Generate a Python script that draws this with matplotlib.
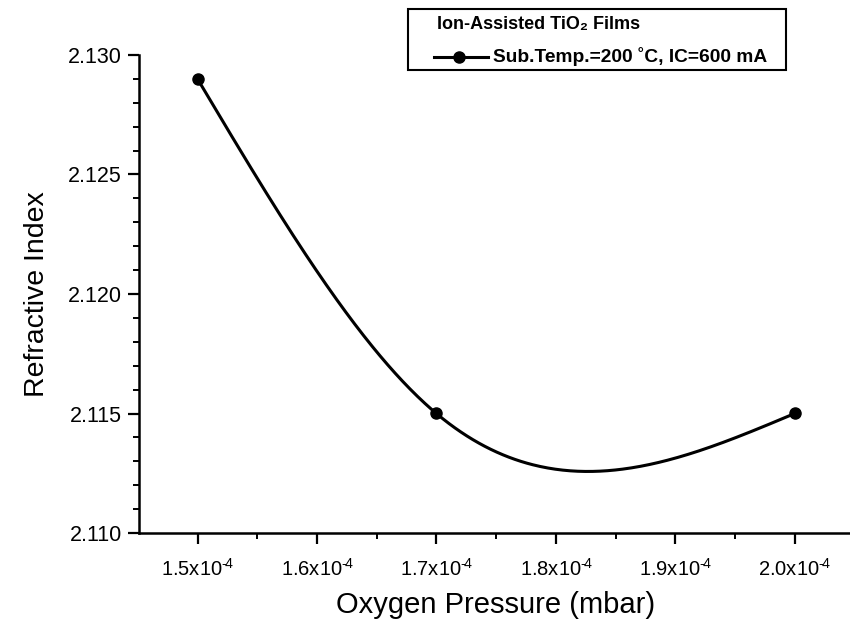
import numpy as np
import matplotlib
matplotlib.use("Agg")
import matplotlib.pyplot as plt
from matplotlib.ticker import MultipleLocator, FuncFormatter
from matplotlib.patches import Rectangle
from matplotlib.lines import Line2D

plt.rcParams['font.family'] = ['Liberation Sans', 'DejaVu Sans']
plt.rcParams['mathtext.fontset'] = 'custom'
plt.rcParams['mathtext.rm'] = 'Liberation Sans'
plt.rcParams['mathtext.default'] = 'regular'

# Data
pressure = [1.5e-4, 1.7e-4, 2.0e-4]
refr_index = [2.129, 2.115, 2.115]
series_label = "Sub.Temp.=200 \u02daC, IC=600 mA"
legend_title = "Ion-Assisted TiO\u2082 Films"
xlabel = "Oxygen Pressure (mbar)"
ylabel = "Refractive Index"


def natural_spline(x, y, n=400):
    x = np.asarray(x, float)
    y = np.asarray(y, float)
    m = len(x)
    h = np.diff(x)
    A = np.zeros((m, m))
    b = np.zeros(m)
    A[0, 0] = 1
    A[-1, -1] = 1
    for i in range(1, m - 1):
        A[i, i - 1] = h[i - 1]
        A[i, i] = 2 * (h[i - 1] + h[i])
        A[i, i + 1] = h[i]
        b[i] = 6 * ((y[i + 1] - y[i]) / h[i] - (y[i] - y[i - 1]) / h[i - 1])
    M = np.linalg.solve(A, b)
    xs = np.linspace(x[0], x[-1], n)
    ys = np.empty_like(xs)
    for k, xv in enumerate(xs):
        i = min(np.searchsorted(x, xv, side='right') - 1, m - 2)
        t1 = x[i + 1] - xv
        t0 = xv - x[i]
        ys[k] = (M[i] * t1 ** 3 / (6 * h[i]) + M[i + 1] * t0 ** 3 / (6 * h[i])
                 + (y[i] / h[i] - M[i] * h[i] / 6) * t1
                 + (y[i + 1] / h[i] - M[i + 1] * h[i] / 6) * t0)
    return xs, ys


W, H = 850, 627
fig = plt.figure(figsize=(W / 100, H / 100), dpi=100)
ax = fig.add_axes([139 / W, 1 - 533 / H, 714 / W, 478 / H])

xs, ys = natural_spline(pressure, refr_index)
ax.plot(xs, ys, color='black', lw=2.2, solid_capstyle='round')
ax.plot(pressure, refr_index, 'o', color='black', ms=8, zorder=3)

ax.set_xlim(1.451e-4, 2.0488e-4)
ax.set_ylim(2.110, 2.130)

for s in ['top', 'right']:
    ax.spines[s].set_visible(False)
for s in ['left', 'bottom']:
    ax.spines[s].set_linewidth(1.8)

ax.xaxis.set_major_locator(MultipleLocator(0.1e-4))
ax.xaxis.set_minor_locator(MultipleLocator(0.05e-4))
ax.yaxis.set_major_locator(MultipleLocator(0.005))
ax.yaxis.set_minor_locator(MultipleLocator(0.001))


def xfmt(v, pos):
    return "%.1fx10$^{\u2010\\!4}$" % (v * 1e4)


ax.xaxis.set_major_formatter(FuncFormatter(xfmt))
ax.yaxis.set_major_formatter(FuncFormatter(lambda v, p: "%.3f" % v))

ax.tick_params(which='major', direction='out', length=8, width=1.6,
               labelsize=15.5, pad=4.5)
ax.tick_params(which='minor', direction='out', length=4, width=1.4)
ax.tick_params(axis='x', which='major', labelsize=14.5, pad=10)

ax.set_xlabel(xlabel, fontsize=21, labelpad=8)
ax.set_ylabel(ylabel, fontsize=20.5, labelpad=13)

# Legend box (Origin-style)
bx0, bx1, by0, by1 = 408, 786, 9, 70
fig.add_artist(Rectangle((bx0 / W, 1 - by1 / H), (bx1 - bx0) / W, (by1 - by0) / H,
                         transform=fig.transFigure, facecolor='white',
                         edgecolor='black', lw=1.5, zorder=5))
fig.text(437 / W, 1 - 24 / H, legend_title, fontsize=13, fontweight='bold',
         va='center', ha='left', zorder=6)
fig.add_artist(Line2D([434 / W, 488 / W], [1 - 57 / H, 1 - 57 / H],
                      transform=fig.transFigure, color='black', lw=2.2, zorder=6))
fig.add_artist(Line2D([459 / W], [1 - 57 / H], transform=fig.transFigure,
                      marker='o', ms=8, color='black', zorder=7))
fig.text(493 / W, 1 - 57 / H, series_label, fontsize=13.75, fontweight='bold',
         va='center', ha='left', zorder=6)

fig.savefig("out.png", dpi=100)
